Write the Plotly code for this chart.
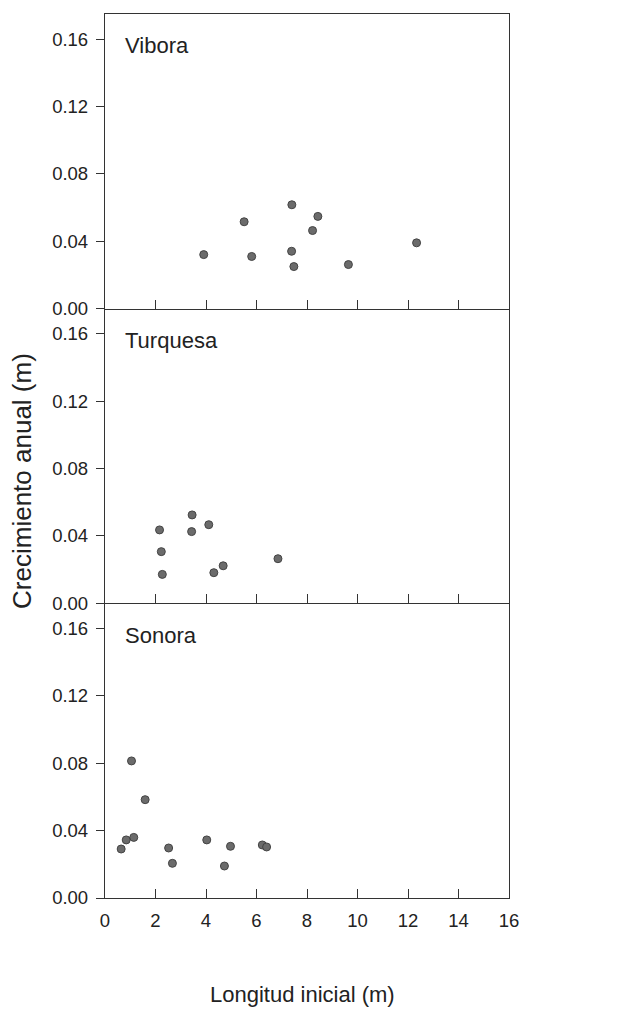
import plotly.graph_objects as go
from plotly.subplots import make_subplots

# Data
vibora_x = [3.91, 5.51, 5.81, 7.40, 7.39, 7.48, 8.22, 8.43, 9.64, 12.34]
vibora_y = [0.0321, 0.0516, 0.0310, 0.0617, 0.0341, 0.0250, 0.0464, 0.0548, 0.0262, 0.0391]

turquesa_x = [2.16, 2.23, 2.27, 3.45, 3.43, 4.11, 4.31, 4.68, 6.85]
turquesa_y = [0.0436, 0.0307, 0.0172, 0.0525, 0.0426, 0.0467, 0.0182, 0.0223, 0.0265]

sonora_x = [0.64, 0.84, 1.14, 1.05, 1.59, 2.52, 2.67, 4.03, 4.73, 4.97, 6.23, 6.40]
sonora_y = [0.0291, 0.0345, 0.0360, 0.0814, 0.0584, 0.0297, 0.0206, 0.0345, 0.0190, 0.0307, 0.0315, 0.0303]

panel_names = ["Vibora", "Turquesa", "Sonora"]
x_ticks = [0, 2, 4, 6, 8, 10, 12, 14, 16]
y_ticks = [0.00, 0.04, 0.08, 0.12, 0.16]
y_tick_text = ["0.00", "0.04", "0.08", "0.12", "0.16"]

series = [(vibora_x, vibora_y), (turquesa_x, turquesa_y), (sonora_x, sonora_y)]

fig = make_subplots(rows=3, cols=1, shared_xaxes=True, vertical_spacing=0)

font_family = "Liberation Sans, Arial, sans-serif"
line_col = "#333333"

for i, (xs, ys) in enumerate(series):
    r = i + 1
    fig.add_trace(go.Scatter(
        x=xs, y=ys, mode="markers",
        marker=dict(size=8, color="#6b6b6b", line=dict(color="#444444", width=1)),
        showlegend=False, cliponaxis=False), row=r, col=1)
    fig.update_yaxes(
        range=[0, 0.175], tickvals=y_ticks, ticktext=y_tick_text,
        ticks="outside", ticklen=8, tickwidth=1.2, tickcolor=line_col,
        showline=True, mirror=True, linecolor=line_col, linewidth=1.3,
        showgrid=False, zeroline=False,
        tickfont=dict(size=18.5, color="#222222", family=font_family),
        ticklabelstandoff=4,
        row=r, col=1)
    fig.update_xaxes(
        range=[0, 16], tickvals=x_ticks,
        ticks="inside", ticklen=9, tickwidth=1.2, tickcolor=line_col,
        showline=True, mirror=(r == 1), linecolor=line_col, linewidth=1.3,
        showgrid=False, zeroline=False,
        showticklabels=(r == 3),
        tickfont=dict(size=18.5, color="#222222", family=font_family),
        ticklabelstandoff=6,
        row=r, col=1)
    yref = "y" if r == 1 else f"y{r}"
    xref = "x" if r == 1 else f"x{r}"
    fig.add_annotation(x=0.7, y=0.156, xref=xref, yref=yref, text=panel_names[i],
                       showarrow=False, xanchor="left", yanchor="middle",
                       font=dict(size=22, color="#222222", family=font_family))

fig.add_annotation(x=-0.205, y=0.472, xref="paper", yref="paper",
                   text="Crecimiento anual (m)", textangle=-90, showarrow=False,
                   xanchor="center", yanchor="middle",
                   font=dict(size=26, color="#222222", family=font_family))
fig.add_annotation(x=0.49, y=-0.109, xref="paper", yref="paper",
                   text="Longitud inicial (m)", showarrow=False,
                   xanchor="center", yanchor="middle",
                   font=dict(size=22, color="#222222", family=font_family))

fig.update_layout(
    width=628, height=1011,
    margin=dict(l=105, r=119, t=14, b=113),
    paper_bgcolor="white", plot_bgcolor="white",
    font=dict(family=font_family),
)

fig.write_html("out.html")
